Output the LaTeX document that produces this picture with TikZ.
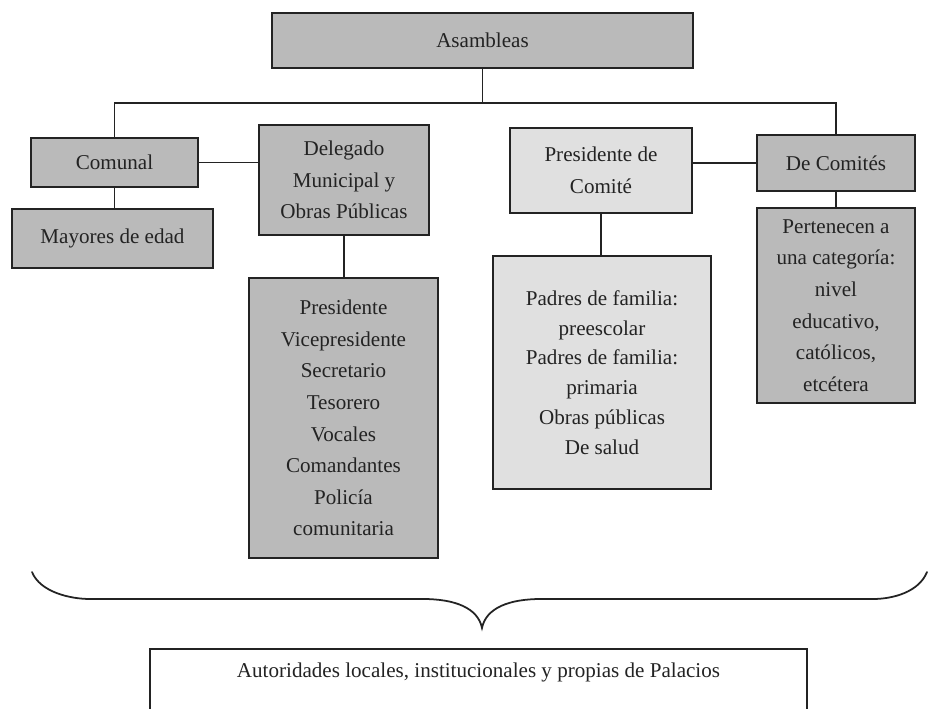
\documentclass[tikz,border=0pt]{standalone}
\usepackage{fontspec}
\setmainfont{Liberation Serif}
\definecolor{palaciosDark}{RGB}{186,186,186}
\definecolor{palaciosLight}{RGB}{224,224,224}
\definecolor{palaciosInk}{RGB}{35,35,35}
\begin{document}
\begin{tikzpicture}[x=.02cm,y=-.02cm,
    cargo/.style={draw=palaciosInk, fill=palaciosDark, line width=1pt,
      font=\fontsize{12}{18}\selectfont, text=palaciosInk, align=center,
      inner sep=0pt},
    comite/.style={cargo, fill=palaciosLight},
    enlace/.style={draw=palaciosInk, line width=.8pt},
    llave/.style={draw=palaciosInk, line width=1pt, line cap=round}]
  \useasboundingbox (0,0) rectangle (930,709);
  \fill[white] (0,0) rectangle (930,709);

  % cajas
  \node[cargo, minimum width=8.42cm, minimum height=1.10cm]
    (asambleas) at (482.5,40.5) {Asambleas};
  \node[cargo, minimum width=3.34cm, minimum height=.98cm]
    (comunal) at (114.5,162.5) {Comunal};
  \node[cargo, minimum width=4.02cm, minimum height=1.18cm]
    (mayores) at (112.5,238.5) {Mayores de edad};
  \node[cargo, minimum width=3.40cm, minimum height=2.20cm]
    (delegado) at (344,180) {Delegado\\Municipal y\\Obras Públicas};
  \node[cargo, minimum width=3.78cm, minimum height=5.60cm]
    (cargos) at (343.5,418) {Presidente\\Vicepresidente\\Secretario\\Tesorero\\
      Vocales\\Comandantes\\Policía\\comunitaria};
  \node[comite, minimum width=3.64cm, minimum height=1.70cm]
    (presidente) at (601,170.5) {Presidente de\\Comité};
  \node[comite, minimum width=4.36cm, minimum height=4.66cm,
    font=\fontsize{12}{17}\selectfont]
    (padres) at (602,372.5) {Padres de familia:\\preescolar\\Padres de familia:\\
      primaria\\Obras públicas\\De salud};
  \node[cargo, minimum width=3.16cm, minimum height=1.12cm]
    (comites) at (836,163) {De Comités};
  \node[cargo, minimum width=3.16cm, minimum height=3.90cm]
    (categoria) at (836,305.5) {Pertenecen a\\una categoría:\\nivel\\educativo,\\
      católicos,\\etcétera};

  % conectores
  \coordinate (bus) at (0,103);
  \draw[enlace] (asambleas.south) -- (asambleas.south |- bus);
  \draw[enlace] (comunal.north) |- (bus -| comites.north) -- (comites.north);
  \draw[enlace] (comunal.south) -- (comunal.south |- mayores.north);
  \draw[enlace] (comunal.east) -- (comunal.east -| delegado.west);
  \draw[enlace] (delegado.south) -- (delegado.south |- cargos.north);
  \draw[enlace] (comites.west -| presidente.east) -- (comites.west);
  \draw[enlace] (presidente.south) -- (presidente.south |- padres.north);
  \draw[enlace] (comites.south) -- (categoria.north);

  % llave
  \draw[llave] (32,572) .. controls (40,592) and (70,599) .. (90,599)
    -- (423,599) .. controls (455,599) and (478,608) .. (482,628)
    .. controls (486,608) and (509,599) .. (541,599)
    -- (873,599) .. controls (893,599) and (919,592) .. (927,572);

  % recuadro inferior
  \draw[palaciosInk, line width=1pt] (150,712) -- (150,649) -- (807,649) -- (807,712);
  \node[font=\fontsize{12}{14}\selectfont, text=palaciosInk]
    (autoridades) at (478.5,672)
    {Autoridades locales, institucionales y propias de Palacios};
\end{tikzpicture}
\end{document}
